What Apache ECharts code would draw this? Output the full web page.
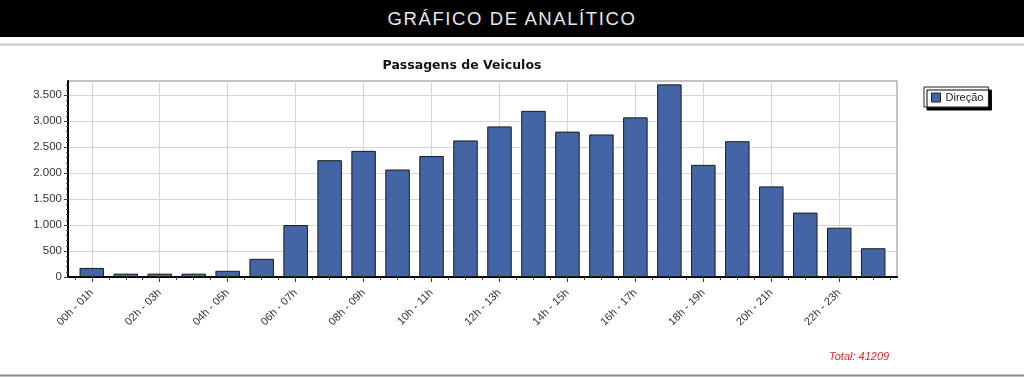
<!DOCTYPE html>
<html>
<head>
<meta charset="utf-8">
<script src="https://cdn.jsdelivr.net/npm/echarts@6/dist/echarts.min.js"></script>
<style>
  html, body { margin: 0; padding: 0; background: #fff; }
  #wrap { position: relative; width: 1024px; height: 378px; overflow: hidden; }
  #chart { position: absolute; left: 0; top: 0; width: 1024px; height: 378px; }
  #header { position: absolute; left: 0; top: 0; width: 1024px; height: 37px; background: #000;
    color: #e8e8e8; font-family: 'Liberation Sans', Arial, sans-serif; font-size: 18.5px;
    letter-spacing: 1.6px; text-align: center; line-height: 37px; z-index: 2; }
</style>
</head>
<body>
<div id="wrap">
  <div id="chart"></div>
  <div id="header">GRÁFICO DE ANALÍTICO</div>
</div>
<script>
// ---- data ----
const categories = ['00h - 01h','01h - 02h','02h - 03h','03h - 04h','04h - 05h','05h - 06h',
  '06h - 07h','07h - 08h','08h - 09h','09h - 10h','10h - 11h','11h - 12h',
  '12h - 13h','13h - 14h','14h - 15h','15h - 16h','16h - 17h','17h - 18h',
  '18h - 19h','19h - 20h','20h - 21h','21h - 22h','22h - 23h','23h - 00h'];
const direcao = [175, 65, 65, 65, 120, 350, 1000, 2250, 2430, 2070, 2330, 2630,
  2900, 3200, 2800, 2745, 3075, 3710, 2160, 2615, 1745, 1240, 950, 554];
const seriesName = 'Direção';
const chartTitle = 'Passagens de Veiculos';
const totalLabel = 'Total: 41209';
const yTicks = [0, 500, 1000, 1500, 2000, 2500, 3000, 3500];
const yMinorTicks = [0,100,200,300,400,500,600,700,800,900,1000,1100,1200,1300,1400,1500,1600,1700,1800,1900,2000,2100,2200,2300,2400,2500,2600,2700,2800,2900,3000,3100,3200,3300,3400,3500,3600,3700];
const xLabelIdx = [0, 2, 4, 6, 8, 10, 12, 14, 16, 18, 20, 22];
const xMinorTicks = [-0.5,0,0.5,1,1.5,2,2.5,3,3.5,4,4.5,5,5.5,6,6.5,7,7.5,8,8.5,9,9.5,10,10.5,11,11.5,12,12.5,13,13.5,14,14.5,15,15.5,16,16.5,17,17.5,18,18.5,19,19.5,20,20.5,21,21.5,22,22.5,23,23.5];

const FONT = "'Liberation Sans', Arial, sans-serif";
function fmt(v) { return String(Math.round(v)).replace(/\B(?=(\d{3})+(?!\d))/g, '.'); }

const chart = echarts.init(document.getElementById('chart'), null, { renderer: 'canvas' });
const xCommon = { type: 'value', min: -0.7, max: 23.7, gridIndex: 0 };
const yCommon = { type: 'value', min: 0, max: 3775, gridIndex: 0 };

chart.setOption({
  animation: false,
  backgroundColor: '#fff',
  title: [
    { text: chartTitle, left: 462, top: 59, textAlign: 'center',
      textStyle: { fontFamily: "'DejaVu Sans', Verdana, sans-serif", fontSize: 12.5, fontWeight: 'bold', color: '#111' }, padding: 0 },
    { text: totalLabel, left: 829, top: 351, padding: 0,
      textStyle: { fontFamily: FONT, fontSize: 11, fontStyle: 'italic', fontWeight: 'normal', color: '#e0262b' } }
  ],
  legend: {
    data: [seriesName], left: 924, top: 87, orient: 'vertical',
    icon: 'rect', itemWidth: 9, itemHeight: 9, itemGap: 4,
    padding: [5, 5, 4, 7],
    backgroundColor: '#fff', borderColor: '#222', borderWidth: 1,
    shadowColor: '#000', shadowBlur: 0.01, shadowOffsetX: 3, shadowOffsetY: 3,
    textStyle: { fontFamily: FONT, fontSize: 11, color: '#222' },
    itemStyle: { borderColor: '#222', borderWidth: 1 }
  },
  graphic: [
    { type: 'line', shape: { x1: 0, y1: 44.5, x2: 1024, y2: 44.5 }, style: { stroke: '#c8c8c8', lineWidth: 2 } },
    { type: 'line', shape: { x1: 0, y1: 375.5, x2: 1024, y2: 375.5 }, style: { stroke: '#8a8a8a', lineWidth: 2 } }
  ],
  grid: { left: 68, right: 127, top: 81, bottom: 101, show: true, borderColor: '#888', borderWidth: 1, backgroundColor: '#fff' },
  xAxis: [
    Object.assign({}, xCommon, {
      position: 'bottom',
      axisLine: { show: true, onZero: false, lineStyle: { color: '#000', width: 2 } },
      axisTick: { show: true, customValues: xLabelIdx, length: 5, lineStyle: { color: '#333' } },
      axisLabel: { customValues: xLabelIdx, rotate: 45, margin: 14, fontFamily: FONT, fontSize: 11, color: '#333',
        formatter: v => categories[Math.round(v)] },
      splitLine: { show: true, lineStyle: { color: '#d6d6d6', width: 1 } }
    }),
    Object.assign({}, xCommon, {
      position: 'bottom',
      axisLine: { show: false, onZero: false },
      axisTick: { show: true, customValues: xMinorTicks, length: 3, lineStyle: { color: '#444' } },
      axisLabel: { show: false },
      splitLine: { show: false }
    })
  ],
  yAxis: [
    Object.assign({}, yCommon, {
      position: 'left',
      axisLine: { show: true, onZero: false, lineStyle: { color: '#000', width: 2 } },
      axisTick: { show: true, customValues: yTicks, length: 4, lineStyle: { color: '#333' } },
      axisLabel: { customValues: yTicks, margin: 6, fontFamily: FONT, fontSize: 11.5, color: '#333', formatter: fmt },
      splitLine: { show: true, lineStyle: { color: '#d6d6d6', width: 1 } }
    }),
    Object.assign({}, yCommon, {
      position: 'left',
      axisLine: { show: false, onZero: false },
      axisTick: { show: true, customValues: yMinorTicks, length: 2, lineStyle: { color: '#555' } },
      axisLabel: { show: false },
      splitLine: { show: false }
    })
  ],
  series: [{
    name: seriesName, type: 'bar', xAxisIndex: 0, yAxisIndex: 0,
    barWidth: 24.5,
    data: direcao.map((v, i) => [i, v]),
    itemStyle: { color: '#4465a5', borderColor: '#1a1a1a', borderWidth: 1 }
  }]
});
</script>
</body>
</html>
